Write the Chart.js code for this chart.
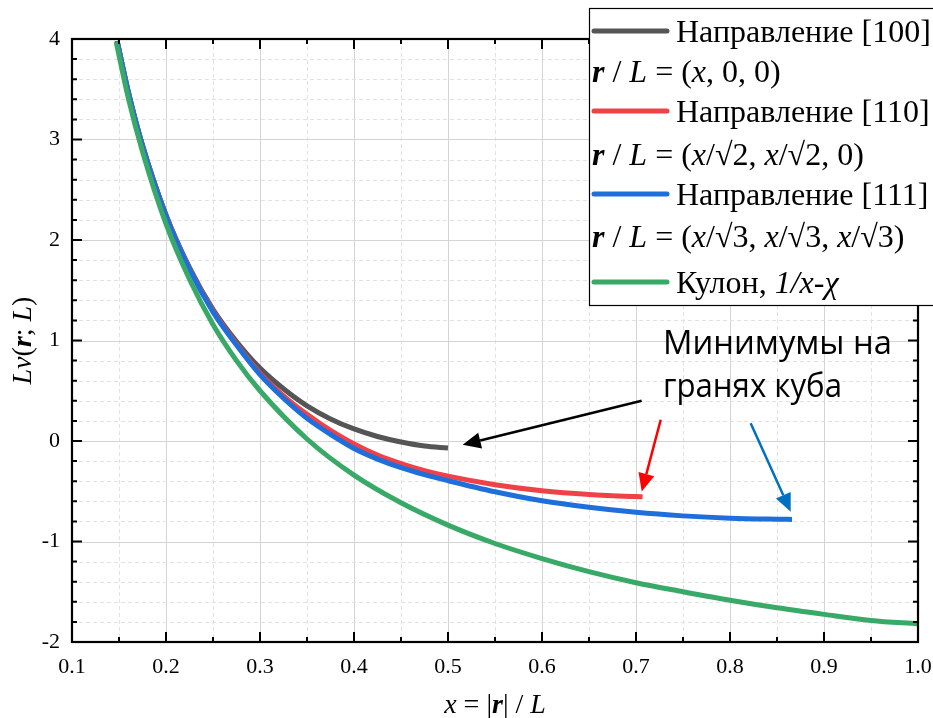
<!DOCTYPE html>
<html lang="ru">
<head>
<meta charset="UTF-8">
<title>Потенциал в кубической решётке</title>
<style>
    body, html {
        margin: 0;
        background: #ffffff;
    }
    #chart {
        display: block;
    }
</style>
</head>
<body>
<canvas id="chart" width="933" height="718"></canvas>

<script src="https://cdn.jsdelivr.net/npm/chart.js"></script>
<script>
    // Направление [100]
    const x100 = [0.148, 0.16, 0.175, 0.2, 0.225, 0.25, 0.275, 0.3, 0.325, 0.35, 0.375, 0.4, 0.425, 0.45, 0.475, 0.5];
    const v100 = [3.98, 3.47, 2.94, 2.25, 1.725, 1.31, 0.99, 0.725, 0.52, 0.35, 0.22, 0.12, 0.045, -0.01, -0.05, -0.07];

    // Направление [110]
    const x110 = [0.148, 0.16, 0.175, 0.2, 0.225, 0.25, 0.275, 0.3, 0.325, 0.35, 0.375, 0.4, 0.425, 0.45, 0.475, 0.5, 0.55, 0.6, 0.65, 0.7, 0.707];
    const v110 = [3.98, 3.47, 2.94, 2.245, 1.715, 1.295, 0.965, 0.675, 0.45, 0.265, 0.105, -0.03, -0.14, -0.225, -0.295, -0.35, -0.435, -0.495, -0.532, -0.553, -0.555];

    // Направление [111]
    const x111 = [0.148, 0.16, 0.175, 0.2, 0.225, 0.25, 0.275, 0.3, 0.325, 0.35, 0.375, 0.4, 0.425, 0.45, 0.475, 0.5, 0.55, 0.6, 0.65, 0.7, 0.75, 0.8, 0.85, 0.866];
    const v111 = [3.98, 3.47, 2.94, 2.24, 1.71, 1.285, 0.955, 0.66, 0.425, 0.225, 0.065, -0.075, -0.18, -0.265, -0.335, -0.395, -0.505, -0.595, -0.66, -0.71, -0.745, -0.768, -0.778, -0.78];

    // Кулон, 1/x - chi
    const xCoul = [0.147, 0.16, 0.175, 0.2, 0.225, 0.25, 0.275, 0.3, 0.35, 0.4, 0.45, 0.5, 0.55, 0.6, 0.65, 0.7, 0.75, 0.8, 0.85, 0.9, 0.95, 1.0];
    const vCoul = [3.97, 3.41, 2.88, 2.16, 1.61, 1.16, 0.8, 0.5, 0.02, -0.34, -0.615, -0.837, -1.02, -1.17, -1.3, -1.41, -1.5, -1.585, -1.66, -1.725, -1.785, -1.82];

    const xTicks = [0.1, 0.2, 0.3, 0.4, 0.5, 0.6, 0.7, 0.8, 0.9, 1.0];
    const yTicks = [-2, -1, 0, 1, 2, 3, 4];

    const colGray = '#555555';
    const colRed = '#EF4148';
    const colBlue = '#1E6FDB';
    const colGreen = '#38A966';

    const serif = '"Liberation Serif", "Times New Roman", serif';

    function pts(xs, vs) {
        return xs.map((x, i) => ({ x: x, y: vs[i] }));
    }

    // текст из кусков разного начертания
    function drawRich(ctx, parts, x, y) {
        let cx = x;
        parts.forEach(p => {
            ctx.font = p[1];
            ctx.fillText(p[0], cx, y);
            cx += ctx.measureText(p[0]).width;
        });
        return cx - x;
    }
    function richWidth(ctx, parts) {
        let w = 0;
        parts.forEach(p => { ctx.font = p[1]; w += ctx.measureText(p[0]).width; });
        return w;
    }

    function arrow(ctx, x1, y1, x2, y2, color, lw, head) {
        const a = Math.atan2(y2 - y1, x2 - x1);
        const bx = x2 - head * Math.cos(a);
        const by = y2 - head * Math.sin(a);
        ctx.strokeStyle = color;
        ctx.fillStyle = color;
        ctx.lineWidth = lw;
        ctx.beginPath();
        ctx.moveTo(x1, y1);
        ctx.lineTo(bx, by);
        ctx.stroke();
        const w = head * 0.45;
        ctx.beginPath();
        ctx.moveTo(x2, y2);
        ctx.lineTo(bx + w * Math.sin(a), by - w * Math.cos(a));
        ctx.lineTo(bx - w * Math.sin(a), by + w * Math.cos(a));
        ctx.closePath();
        ctx.fill();
    }

    const R = 'normal 32px ' + serif;
    const I = 'italic 32px ' + serif;
    const BI = 'italic bold 32px ' + serif;

    const legendRows = [
        { color: colGray, parts: [['Направление [100]', R]] },
        { parts: [['r', BI], [' / ', R], ['L', I], [' = (', R], ['x', I], [', 0, 0)', R]] },
        { color: colRed, parts: [['Направление [110]', R]] },
        { parts: [['r', BI], [' / ', R], ['L', I], [' = (', R], ['x', I], ['/√2, ', R], ['x', I], ['/√2, 0)', R]] },
        { color: colBlue, parts: [['Направление [111]', R]] },
        { parts: [['r', BI], [' / ', R], ['L', I], [' = (', R], ['x', I], ['/√3, ', R], ['x', I], ['/√3, ', R], ['x', I], ['/√3)', R]] },
        { color: colGreen, parts: [['Кулон, ', R], ['1/x-χ', I]] }
    ];
    const legendBase = [42, 82, 122, 165, 205, 247, 293];

    // стрелки и подпись в координатах данных
    const arrows = [
        { from: [0.706, 0.401], to: [0.5156, -0.038], color: '#000000', head: 18 },
        { from: [0.7263, 0.211], to: [0.7061, -0.503], color: '#FF0000', head: 18 },
        { from: [0.822, 0.177], to: [0.8646, -0.703], color: '#0070C0', head: 18 }
    ];
    const noteX = 0.7287;
    const noteLines = ['Минимумы на', 'гранях куба'];
    const noteV = [0.862, 0.434];
    const noteW = [229, 179];

    const decor = {
        id: 'decor',
        beforeDatasetsDraw(chart) {
            const ctx = chart.ctx;
            const xs = chart.scales.x, ys = chart.scales.y;
            const a = chart.chartArea;
            ctx.save();
            // сетка
            for (let i = 1; i < 18; i++) {
                const v = 0.1 + i * 0.05;
                const px = Math.round(xs.getPixelForValue(v)) + 0.5;
                const major = i % 2 === 0;
                ctx.strokeStyle = major ? '#d4d4d4' : '#e2e2e2';
                ctx.setLineDash(major ? [] : [4, 3]);
                ctx.lineWidth = 1;
                ctx.beginPath(); ctx.moveTo(px, a.top); ctx.lineTo(px, a.bottom); ctx.stroke();
            }
            for (let i = 1; i < 30; i++) {
                const v = -2 + i * 0.2;
                const py = Math.round(ys.getPixelForValue(v)) + 0.5;
                const major = i % 5 === 0;
                ctx.strokeStyle = major ? '#d4d4d4' : '#e2e2e2';
                ctx.setLineDash(major ? [] : [4, 3]);
                ctx.lineWidth = 1;
                ctx.beginPath(); ctx.moveTo(a.left, py); ctx.lineTo(a.right, py); ctx.stroke();
            }
            ctx.restore();
        },
        afterDatasetsDraw(chart) {
            const ctx = chart.ctx;
            const xs = chart.scales.x, ys = chart.scales.y;
            const a = chart.chartArea;
            ctx.save();
            ctx.setLineDash([]);
            ctx.strokeStyle = '#000';
            // засечки внутрь со всех сторон
            ctx.lineWidth = 2;
            for (let i = 0; i <= 18; i++) {
                const px = xs.getPixelForValue(0.1 + i * 0.05);
                const len = i % 2 === 0 ? 10 : 5;
                ctx.beginPath();
                ctx.moveTo(px, a.bottom); ctx.lineTo(px, a.bottom - len);
                ctx.moveTo(px, a.top); ctx.lineTo(px, a.top + len);
                ctx.stroke();
            }
            for (let i = 0; i <= 30; i++) {
                const py = ys.getPixelForValue(-2 + i * 0.2);
                const len = i % 5 === 0 ? 10 : 5;
                ctx.beginPath();
                ctx.moveTo(a.left, py); ctx.lineTo(a.left + len, py);
                ctx.moveTo(a.right, py); ctx.lineTo(a.right - len, py);
                ctx.stroke();
            }
            ctx.lineWidth = 2.2;
            ctx.strokeRect(a.left, a.top, a.right - a.left, a.bottom - a.top);

            // подписи осей
            ctx.fillStyle = '#000';
            ctx.textBaseline = 'alphabetic';
            const F = 'normal 28px ' + serif, FI = 'italic 28px ' + serif, FB = 'italic bold 28px ' + serif;
            const xt = [['x', FI], [' = |', F], ['r', FB], ['| / ', F], ['L', FI]];
            drawRich(ctx, xt, (a.left + a.right) / 2 - richWidth(ctx, xt) / 2, 713);
            const yt = [['Lv', FI], ['(', F], ['r', FB], ['; ', F], ['L', FI], [')', F]];
            ctx.save();
            ctx.translate(31, (a.top + a.bottom) / 2);
            ctx.rotate(-Math.PI / 2);
            drawRich(ctx, yt, -richWidth(ctx, yt) / 2, 0);
            ctx.restore();

            // стрелки
            arrows.forEach(ar => {
                arrow(ctx, xs.getPixelForValue(ar.from[0]), ys.getPixelForValue(ar.from[1]),
                    xs.getPixelForValue(ar.to[0]), ys.getPixelForValue(ar.to[1]), ar.color, 2.5, ar.head);
            });

            // подпись
            ctx.fillStyle = '#000';
            ctx.font = '33px "Open Sans", "Noto Sans", sans-serif';
            noteLines.forEach((t, i) => {
                ctx.fillText(t, xs.getPixelForValue(noteX), ys.getPixelForValue(noteV[i]), noteW[i]);
            });

            // легенда
            ctx.fillStyle = '#fff';
            ctx.fillRect(589, 8, 360, 297);
            ctx.strokeStyle = '#000';
            ctx.lineWidth = 1.2;
            ctx.strokeRect(589.5, 8.5, 360, 297);
            legendRows.forEach((row, i) => {
                const base = legendBase[i];
                ctx.fillStyle = '#000';
                if (row.color) {
                    ctx.strokeStyle = row.color;
                    ctx.lineWidth = 5;
                    ctx.lineCap = 'round';
                    ctx.beginPath();
                    ctx.moveTo(594, base - 11);
                    ctx.lineTo(667, base - 11);
                    ctx.stroke();
                    drawRich(ctx, row.parts, 676, base);
                } else {
                    drawRich(ctx, row.parts, 592, base);
                }
            });
            ctx.restore();
        }
    };

    const line = (label, data, color, order) => ({
        label: label,
        data: data,
        showLine: true,
        borderColor: color,
        backgroundColor: color,
        borderWidth: 5,
        pointRadius: 0,
        cubicInterpolationMode: 'monotone',
        order: order
    });

    const chart = new Chart(document.getElementById('chart'), {
        type: 'scatter',
        data: {
            datasets: [
                line('Направление [100]', pts(x100, v100), colGray, 3),
                line('Направление [110]', pts(x110, v110), colRed, 2),
                line('Направление [111]', pts(x111, v111), colBlue, 1),
                line('Кулон, 1/x-χ', pts(xCoul, vCoul), colGreen, 0)
            ]
        },
        options: {
            responsive: false,
            animation: false,
            layout: { padding: { top: 39, right: 15, left: 0, bottom: 0 } },
            plugins: {
                legend: { display: false },
                tooltip: { enabled: false }
            },
            scales: {
                x: {
                    type: 'linear',
                    min: 0.1,
                    max: 1.0,
                    grid: { display: false, drawTicks: false },
                    border: { display: false },
                    afterBuildTicks: s => { s.ticks = xTicks.map(v => ({ value: v })); },
                    afterFit: s => { s.height = 76; s.paddingLeft = 0; s.paddingRight = 0; },
                    ticks: {
                        autoSkip: false,
                        maxRotation: 0,
                        padding: 12,
                        color: '#000',
                        font: { family: serif, size: 22 },
                        callback: v => v.toFixed(1)
                    }
                },
                y: {
                    type: 'linear',
                    min: -2,
                    max: 4,
                    grid: { display: false, drawTicks: false },
                    border: { display: false },
                    afterBuildTicks: s => { s.ticks = yTicks.map(v => ({ value: v })); },
                    afterFit: s => { s.width = 72; s.paddingTop = 0; s.paddingBottom = 0; },
                    ticks: {
                        padding: 12,
                        color: '#000',
                        font: { family: serif, size: 22 },
                        callback: v => String(v)
                    }
                }
            }
        },
        plugins: [decor]
    });
</script>
</body>
</html>
